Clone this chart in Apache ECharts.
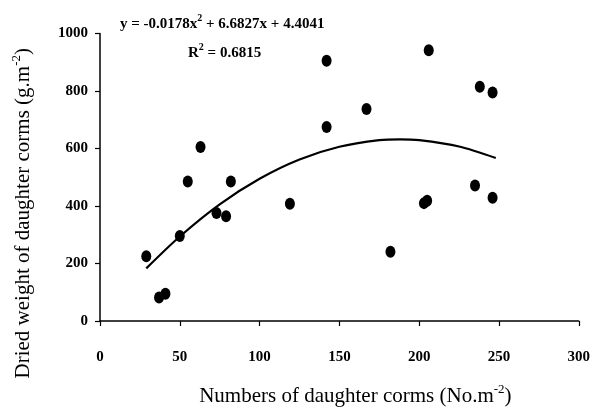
<!DOCTYPE html>
<html>
<head>
<meta charset="utf-8">
<script src="https://cdn.jsdelivr.net/npm/echarts@6/dist/echarts.min.js"></script>
<style>
    html, body { margin: 0; padding: 0; background: #fff; }
    #chart { width: 593px; height: 412px; }
</style>
</head>
<body>
<div id="chart"></div>
<script>
// observed points (numbers of daughter corms, dried weight)
var cormNumbers = [29, 37, 41, 50, 55, 63, 73, 79, 82, 119, 142, 142, 167, 182, 203, 205, 206, 235, 238, 246, 246];
var cormWeights = [225, 82, 95, 296, 485, 605, 376, 364, 485, 408, 905, 675, 737, 241, 410, 418, 942, 471, 815, 795, 429];

// polynomial trend line
var trendX = [29, 50, 75, 100, 125, 150, 175, 188, 200, 225, 248];
var trendY = [183, 294, 406, 495, 562, 606, 629, 632, 629, 607, 567];

var xTicks = [0, 50, 100, 150, 200, 250, 300];
var yTicks = [0, 200, 400, 600, 800, 1000];

var serif = '"Liberation Serif", "Times New Roman", serif';

window.onload = function () {
    var myChart = echarts.init(document.getElementById('chart'));

    var points = [];
    for (var i = 0; i < cormNumbers.length; i++) {
        points.push([cormNumbers[i], cormWeights[i]]);
    }
    var trend = [];
    for (var j = 0; j < trendX.length; j++) {
        trend.push([trendX[j], trendY[j]]);
    }

    var axisCommon = {
        type: 'value',
        splitLine: { show: false },
        axisLine: { show: true, onZero: false, lineStyle: { color: '#000', width: 1.5 } },
        axisTick: { show: true, inside: false, length: 5, lineStyle: { color: '#000', width: 1.2 } },
        axisLabel: {
            color: '#000',
            fontFamily: serif,
            fontWeight: 'bold',
            fontSize: 15,
            formatter: function (v) { return String(v); }
        }
    };

    var eqRich = {
        b: { fontFamily: serif, fontWeight: 'bold', fontSize: 15, fill: '#000', lineHeight: 19, verticalAlign: 'bottom' },
        s: { fontFamily: serif, fontWeight: 'bold', fontSize: 10, fill: '#000', lineHeight: 19, verticalAlign: 'top' }
    };

    var option = {
        animation: false,
        grid: { left: 100, right: 11, top: 33.5, bottom: 84, containLabel: false },
        xAxis: echarts.util.merge({
            min: xTicks[0],
            max: xTicks[xTicks.length - 1],
            interval: 50,
            axisLabel: { margin: 29 },
            name: '{n|Numbers of daughter corms (No.m}{s|-2}{n|)}',
            nameLocation: 'middle',
            nameGap: 62,
            nameTextStyle: {
                padding: [0, 0, 0, 32],
                rich: {
                    n: { fontFamily: serif, fontSize: 21, color: '#000', lineHeight: 24, verticalAlign: 'bottom' },
                    s: { fontFamily: serif, fontSize: 13, color: '#000', lineHeight: 24, verticalAlign: 'top', padding: [0, 0, 8, 0] }
                }
            }
        }, axisCommon, false),
        yAxis: echarts.util.merge({
            min: yTicks[0],
            max: yTicks[yTicks.length - 1],
            interval: 200,
            axisLabel: { margin: 12 },
            name: '{n|Dried weight of daughter corms (g.m}{s|-2}{n|)}',
            nameLocation: 'middle',
            nameGap: 66,
            nameRotate: 90,
            nameTextStyle: {
                padding: [0, 72, 0, 0],
                rich: {
                    n: { fontFamily: serif, fontSize: 21, color: '#000', lineHeight: 24, verticalAlign: 'bottom' },
                    s: { fontFamily: serif, fontSize: 13, color: '#000', lineHeight: 24, verticalAlign: 'top', padding: [0, 0, 8, 0] }
                }
            }
        }, axisCommon, false),
        graphic: [{
            type: 'text',
            left: 120,
            top: 13,
            style: { text: '{b|y = -0.0178x}{s|2}{b| + 6.6827x + 4.4041}', rich: eqRich }
        }, {
            type: 'text',
            left: 188,
            top: 42,
            style: { text: '{b|R}{s|2}{b| = 0.6815}', rich: eqRich }
        }],
        series: [{
            name: 'observed',
            type: 'scatter',
            symbol: 'circle',
            symbolSize: [10, 12],
            itemStyle: { color: '#000', opacity: 1 },
            data: points,
            z: 3
        }, {
            name: 'trend',
            type: 'line',
            showSymbol: false,
            smooth: 0.3,
            lineStyle: { color: '#000', width: 2.2 },
            data: trend,
            z: 2
        }]
    };
    myChart.setOption(option);
};
</script>
</body>
</html>
